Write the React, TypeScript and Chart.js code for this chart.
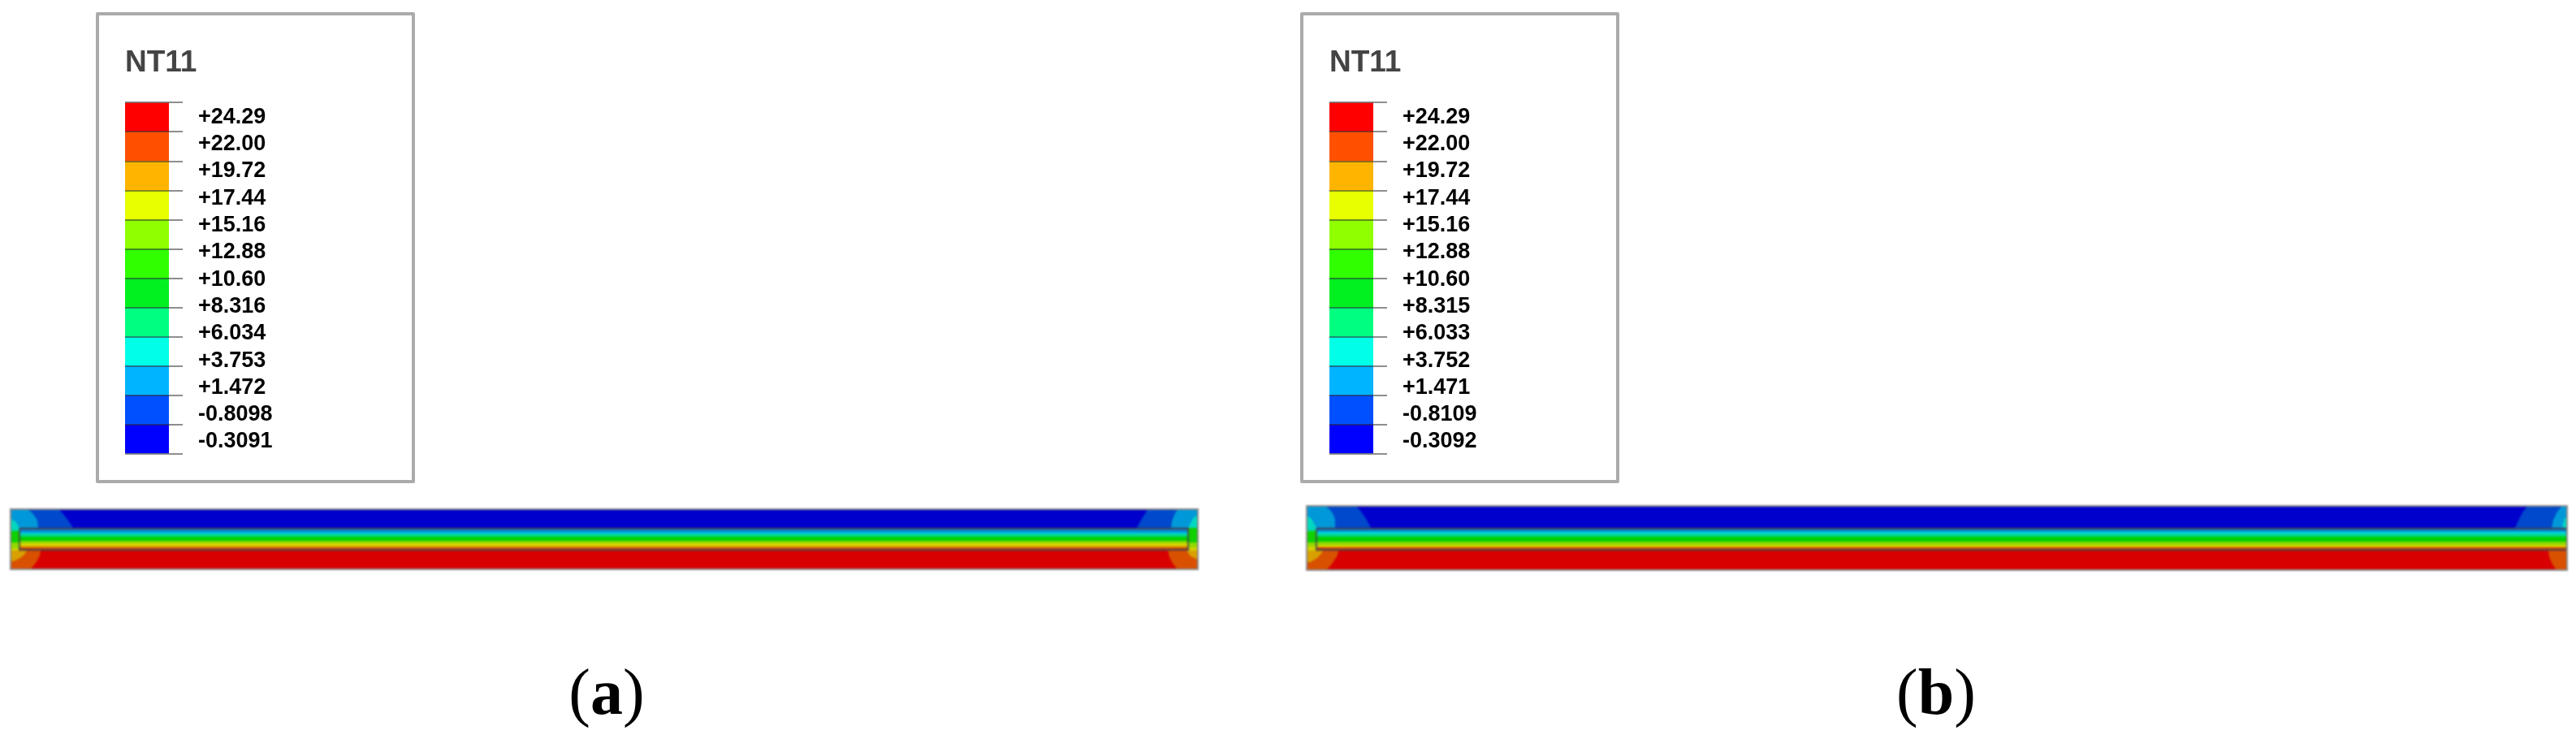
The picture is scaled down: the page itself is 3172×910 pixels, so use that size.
import React, { useEffect, useRef } from "react";
import { Chart, registerables } from "chart.js";

Chart.register(...registerables);

const legendTitle = "NT11";
const binColors = ["#0000FF", "#0050FF", "#00B4FF", "#00FFE6", "#00FF80", "#00F020", "#30FF00", "#90FF00", "#E8FF00", "#FFB400", "#FF5000", "#FF0000"];
const binValues = [1, 1, 1, 1, 1, 1, 1, 1, 1, 1, 1, 1];
const labelsA = ["-0.3091", "-0.8098", "+1.472", "+3.753", "+6.034", "+8.316", "+10.60", "+12.88", "+15.16", "+17.44", "+19.72", "+22.00", "+24.29"];
const labelsB = ["-0.3092", "-0.8109", "+1.471", "+3.752", "+6.033", "+8.315", "+10.60", "+12.88", "+15.16", "+17.44", "+19.72", "+22.00", "+24.29"];

const layerColors = ["#0000CC", "#303CA8", "#0090D8", "#00D8D0", "#00D880", "#00D000", "#8CD800", "#D8D800", "#D8A000", "#D85000", "#A83838", "#D80000"];
const layerEdgesA = [0, 23, 25, 29, 31, 34, 39, 42, 45, 47, 49, 51, 74];
const layerEdgesB = [0, 27, 29, 32, 35, 38, 44, 48, 50, 51, 53, 55, 79];
const lengthA = 1462;
const lengthB = 1552;

type Pt = [number, number];
type Cap = { color: string; pts: Pt[] };

const capsA: Cap[] = [
  { color: "#0048CC", pts: [[0, 0], [59, 0], [64, 5], [69, 11], [73, 17], [77, 23], [0, 23]] },
  { color: "#0098D8", pts: [[0, 0], [20, 0], [26, 4], [30, 9], [33, 14], [34, 23], [0, 23]] },
  { color: "#00D8C0", pts: [[0, 12], [6, 15], [11, 23], [0, 23]] },
  { color: "#00D8B0", pts: [[0, 23], [11, 23], [11, 27], [0, 27]] },
  { color: "#10D000", pts: [[0, 27], [11, 27], [11, 41], [0, 41]] },
  { color: "#90D800", pts: [[0, 41], [11, 41], [11, 48], [0, 48]] },
  { color: "#D0D000", pts: [[0, 48], [11, 48], [11, 53], [0, 53]] },
  { color: "#D85000", pts: [[0, 51], [37, 51], [36, 57], [33, 63], [29, 69], [25, 73], [0, 73]] },
  { color: "#D8A000", pts: [[0, 51], [20, 51], [17, 56], [12, 60], [4, 64], [0, 64]] },
  { color: "#0048CC", pts: [[1400, 0], [1462, 0], [1462, 23], [1387, 23], [1391, 15], [1396, 7]] },
  { color: "#0098D8", pts: [[1437, 0], [1462, 0], [1462, 23], [1429, 23], [1430, 15], [1433, 7]] },
  { color: "#00D8C0", pts: [[1457, 10], [1462, 8], [1462, 23], [1450, 23]] },
  { color: "#10D000", pts: [[1450, 23], [1462, 23], [1462, 41], [1450, 41]] },
  { color: "#90D800", pts: [[1450, 41], [1462, 41], [1462, 47], [1450, 47]] },
  { color: "#D0D000", pts: [[1450, 47], [1462, 47], [1462, 53], [1450, 53]] },
  { color: "#D85000", pts: [[1425, 51], [1462, 51], [1462, 74], [1437, 74], [1431, 67], [1427, 59]] },
  { color: "#D8A000", pts: [[1448, 51], [1462, 51], [1462, 62], [1453, 58]] },
];

const capsB: Cap[] = [
  { color: "#0048CC", pts: [[0, 0], [61, 0], [67, 7], [72, 14], [76, 21], [79, 27], [0, 27]] },
  { color: "#0098D8", pts: [[0, 0], [23, 0], [29, 5], [33, 11], [35, 17], [35, 27], [0, 27]] },
  { color: "#00D8C0", pts: [[0, 12], [6, 16], [12, 27], [0, 27]] },
  { color: "#00D8B0", pts: [[0, 27], [12, 27], [12, 31], [0, 31]] },
  { color: "#10D000", pts: [[0, 31], [12, 31], [12, 45], [0, 45]] },
  { color: "#90D800", pts: [[0, 45], [12, 45], [12, 50], [0, 50]] },
  { color: "#D0D000", pts: [[0, 50], [12, 50], [12, 56], [0, 56]] },
  { color: "#D85000", pts: [[0, 55], [39, 55], [38, 61], [34, 67], [30, 73], [24, 79], [0, 79]] },
  { color: "#D8A000", pts: [[0, 55], [20, 55], [17, 60], [13, 64], [5, 69], [0, 69]] },
  { color: "#0048CC", pts: [[1503, 0], [1552, 0], [1552, 27], [1488, 27], [1492, 18], [1497, 8]] },
  { color: "#0098D8", pts: [[1546, 0], [1552, 0], [1552, 27], [1533, 27], [1535, 17], [1540, 7]] },
  { color: "#00D8C0", pts: [[1549, 15], [1552, 14], [1552, 27], [1546, 27]] },
  { color: "#D85000", pts: [[1529, 55], [1552, 55], [1552, 79], [1539, 79], [1534, 72], [1530, 63]] },
];

const innerA: Pt[] = [[11, 24], [1450, 24], [1450, 50], [11, 50], [11, 24]];
const innerB: Pt[] = [[12, 28], [1552, 28], [1552, 54], [12, 54], [12, 28]];

function toXY(pts: Pt[]) {
  return pts.map(([x, y]) => ({ x, y }));
}

function StripChart({ edges, caps, inner, length, style }: { edges: number[]; caps: Cap[]; inner: Pt[]; length: number; style: React.CSSProperties }) {
  const ref = useRef<HTMLCanvasElement>(null);
  useEffect(() => {
    const height = edges[edges.length - 1];
    const layers = layerColors.map((color, i) => ({
      color,
      pts: [[0, edges[i]], [length, edges[i]], [length, edges[i + 1]], [0, edges[i + 1]]] as Pt[],
    }));
    const fills = [...layers, ...caps].map((s) => ({
      data: toXY(s.pts),
      backgroundColor: s.color,
      borderWidth: 0,
      pointRadius: 0,
      fill: "shape" as const,
      showLine: true,
    }));
    const outline = {
      data: toXY(inner),
      borderColor: "rgba(70,70,70,0.7)",
      borderWidth: 2.5,
      pointRadius: 0,
      fill: false,
      showLine: true,
    };
    const chart = new Chart(ref.current!, {
      type: "scatter",
      data: { datasets: [outline, ...fills.reverse()] as any },
      options: {
        animation: false,
        responsive: false,
        devicePixelRatio: 1,
        layout: { padding: 0 },
        plugins: { legend: { display: false }, tooltip: { enabled: false } },
        scales: {
          x: { type: "linear", min: 0, max: length, display: false },
          y: { type: "linear", min: 0, max: height, reverse: true, display: false },
        },
      },
    });
    return () => chart.destroy();
  }, []);
  return (
    <canvas
      ref={ref}
      width={length}
      height={edges[edges.length - 1]}
      style={{ position: "absolute", outline: "2px solid #8c8c8c", outlineOffset: -1, filter: "blur(1.2px)", ...style }}
    />
  );
}

function LegendChart({ labels, style }: { labels: string[]; style: React.CSSProperties }) {
  const ref = useRef<HTMLCanvasElement>(null);
  useEffect(() => {
    const chart = new Chart(ref.current!, {
      type: "bar",
      data: {
        labels: [legendTitle],
        datasets: binColors.map((color, i) => ({
          data: [binValues[i]],
          backgroundColor: color,
          barPercentage: 1,
          categoryPercentage: 1,
          borderWidth: 0,
          yAxisID: "y",
        })),
      },
      options: {
        animation: false,
        responsive: false,
        devicePixelRatio: 1,
        layout: { padding: { left: 36, top: 0, bottom: 36, right: 0 } },
        plugins: {
          legend: { display: false },
          tooltip: { enabled: false },
          title: {
            display: true,
            text: legendTitle,
            align: "start",
            color: "#444",
            font: { family: "Liberation Sans", size: 37, weight: "bold", lineHeight: 1.2 },
            padding: { top: 41, bottom: 26 },
          },
        },
        scales: {
          x: { stacked: true, display: false },
          y: {
            type: "linear",
            stacked: true,
            position: "right",
            min: 0,
            max: 12,
            grid: { z: 1, color: "rgba(50,50,50,0.55)", lineWidth: 2, drawTicks: true, tickLength: 17 },
            border: { display: false },
            ticks: { display: false, stepSize: 1 },
            afterFit: (s: any) => { s.width = 17; },
          },
          y2: {
            type: "linear",
            position: "right",
            min: -0.45,
            max: 12.54,
            grid: { display: false, drawTicks: false },
            border: { display: false },
            afterBuildTicks: (s: any) => { s.ticks = labels.map((_, i) => ({ value: i })); },
            afterFit: (s: any) => { s.width = 286; },
            ticks: {
              autoSkip: false,
              padding: 19,
              color: "#000",
              font: { family: "Liberation Sans", size: 27, weight: "bold" },
              callback: (v: any) => labels[Number(v)],
            },
          },
        },
      },
    });
    return () => chart.destroy();
  }, []);
  return (
    <div style={{ position: "absolute", width: 393, height: 580, ...style }}>
      <canvas ref={ref} width={393} height={580} style={{ position: "absolute", left: 0, top: 0, filter: "blur(0.7px)" }} />
      <div style={{ position: "absolute", inset: 0, border: "4px solid #ababab", boxSizing: "border-box", borderRadius: 2 }} />
    </div>
  );
}

function Caption({ letter, left }: { letter: string; left: number }) {
  return (
    <div style={{ position: "absolute", left, top: 798, width: 200, textAlign: "center", fontFamily: "Liberation Serif", fontSize: 80, lineHeight: "108px", color: "#000" }}>
      (<b>{letter}</b>)
    </div>
  );
}

export default function App() {
  return (
    <div style={{ position: "fixed", left: 0, top: 0, width: 3172, height: 910, background: "#fff", overflow: "hidden" }}>
      <LegendChart labels={labelsA} style={{ left: 118, top: 15 }} />
      <LegendChart labels={labelsB} style={{ left: 1601, top: 15 }} />
      <StripChart edges={layerEdgesA} caps={capsA} inner={innerA} length={lengthA} style={{ left: 13, top: 627 }} />
      <StripChart edges={layerEdgesB} caps={capsB} inner={innerB} length={lengthB} style={{ left: 1609, top: 623 }} />
      <Caption letter="a" left={647} />
      <Caption letter="b" left={2284} />
    </div>
  );
}
